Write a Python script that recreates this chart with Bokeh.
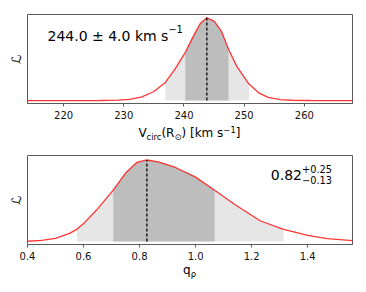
import math
from bokeh.plotting import figure
from bokeh.models import Label, FixedTicker, NumeralTickFormatter, Range1d, Div
from bokeh.layouts import column
from bokeh.embed import file_html
from bokeh.resources import INLINE

# ---------------- data ----------------
# top panel: circular velocity likelihood
v_x = [214, 226, 229, 231, 233, 235, 236.9, 238.5, 240.2, 241.5, 242.7, 243.8,
       245, 246.2, 247.4, 248.8, 250.8, 252.5, 254, 256, 258, 261, 268]
v_like = [0.0, 0.001, 0.006, 0.016, 0.045, 0.11, 0.22, 0.38, 0.58, 0.77, 0.93, 1.0,
          0.96, 0.84, 0.62, 0.41, 0.20, 0.09, 0.04, 0.012, 0.004, 0.001, 0.0]
v_light = (236.9, 250.8)
v_dark = (240.2, 247.4)
v_mark = 243.8
v_mark_height = 1.0
v_ticks = [220, 230, 240, 250, 260]
v_range = (214, 268)
v_title = "244.0 ± 4.0 km s"
v_title_sup = "−1"

# bottom panel: q_rho likelihood
q_x = [0.40, 0.45, 0.50, 0.55, 0.576, 0.60, 0.65, 0.706, 0.75, 0.79, 0.826, 0.87,
       0.93, 1.00, 1.068, 1.14, 1.23, 1.314, 1.40, 1.47, 1.56]
q_like = [0.004, 0.015, 0.04, 0.10, 0.15, 0.22, 0.40, 0.63, 0.84, 0.97, 1.0, 0.975,
          0.905, 0.79, 0.63, 0.455, 0.255, 0.15, 0.075, 0.035, 0.012]
q_light = (0.576, 1.314)
q_dark = (0.706, 1.068)
q_mark = 0.826
q_mark_height = 1.0
q_ticks = [0.4, 0.6, 0.8, 1.0, 1.2, 1.4]
q_range = (0.4, 1.56)
q_title = "0.82"
q_title_sup = "+0.25"
q_title_sub = "−0.13"

# ---------------- styling ----------------
FONT = "DejaVu Sans"
SPINE = "#5a5a5a"
LIGHT = "#e6e6e6"
DARK = "#bdbdbd"
RED = "#ff2020"
PAGE_W = 364
LEFT = 27
FW = 325

W = {' ': 651, '(': 799, ')': 799, '[': 799, ']': 799, '+': 1716, '−': 1716,
     '±': 1716, '.': 651, 'V': 1401, 'R': 1423, 'c': 1126, 'i': 569, 'r': 842,
     'k': 1186, 'm': 1995, 's': 1067, 'q': 1300, 'ρ': 1300, '⊙': 1716}
for d in "0123456789":
    W[d] = 1303


def tw(s, size):
    return sum(W.get(ch, 1200) for ch in s) / 2048.0 * size


def add_label(p, text, x, y, size, align="left", baseline="alphabetic"):
    p.add_layout(Label(x=x, y=y, x_units="screen", y_units="screen", text=text,
                       text_font=FONT, text_font_size=f"{size}px", text_color="black",
                       text_align=align, text_baseline=baseline))


def make_panel(xs, ys, light, dark, mark, mark_h, ticks, xr, yr, fmt,
               top_border, bottom_border, frame_h):
    p = figure(width=PAGE_W, height=top_border + frame_h + bottom_border,
               output_backend="svg", toolbar_location=None,
               x_range=Range1d(*xr), y_range=Range1d(*yr),
               min_border_left=LEFT, min_border_right=PAGE_W - LEFT - FW,
               min_border_top=top_border, min_border_bottom=bottom_border)
    p.grid.visible = False
    p.outline_line_color = SPINE
    p.outline_line_width = 1
    p.background_fill_color = "white"
    p.border_fill_color = "white"

    ax = p.xaxis[0]
    ax.ticker = FixedTicker(ticks=ticks)
    ax.formatter = NumeralTickFormatter(format=fmt)
    ax.axis_line_color = SPINE
    ax.major_tick_line_color = SPINE
    ax.major_tick_out = 3
    ax.major_tick_in = 0
    ax.minor_tick_line_color = None
    ax.major_label_standoff = 4
    ax.major_label_text_font = FONT
    ax.major_label_text_font_size = "10px"
    ax.major_label_text_color = "#111111"

    ay = p.yaxis[0]
    ay.ticker = FixedTicker(ticks=[])
    ay.axis_line_color = None
    ay.major_tick_line_color = None
    ay.minor_tick_line_color = None
    ay.major_tick_out = 0
    ay.major_tick_in = 0
    ay.major_label_standoff = 0
    ay.axis_label = "ℒ"
    ay.axis_label_text_font = FONT
    ay.axis_label_text_font_style = "normal"
    ay.axis_label_text_font_size = "13px"
    ay.axis_label_text_color = "black"
    ay.axis_label_standoff = 4

    lx = [x for x in xs if light[0] <= x <= light[1]]
    ly = [y for x, y in zip(xs, ys) if light[0] <= x <= light[1]]
    dx = [x for x in xs if dark[0] <= x <= dark[1]]
    dy = [y for x, y in zip(xs, ys) if dark[0] <= x <= dark[1]]
    p.varea(x=lx, y1=[0] * len(lx), y2=ly, fill_color=LIGHT)
    p.varea(x=dx, y1=[0] * len(dx), y2=dy, fill_color=DARK)
    p.line(xs, ys, line_color=RED, line_width=1.3, line_alpha=0.9)
    p.segment(x0=[mark], y0=[0], x1=[mark], y1=[mark_h], line_color="black",
              line_width=1.3, line_dash="3 2")
    return p


def label_div(pieces, height, line_h):
    w = sum(tw(t, s) for t, s, _ in pieces)
    pad = LEFT + FW / 2.0 - w / 2.0
    html = ""
    for t, s, dy in pieces:
        if dy == 0:
            html += t
        else:
            html += (f'<span style="font-size:{s}px;vertical-align:{dy}px;'
                     f'line-height:0">{t}</span>')
    inner = (f'<div style="font-family:\'DejaVu Sans\';font-size:12px;'
             f'line-height:{line_h}px;color:#000;white-space:nowrap;'
             f'padding-left:{pad:.1f}px;margin:0">{html}</div>')
    return Div(text=inner, width=PAGE_W, height=height, margin=0)


p1 = make_panel(v_x, v_like, v_light, v_dark, v_mark, v_mark_height, v_ticks,
                v_range, (-0.035, 1.04), "0", 14, 22, 89)
p2 = make_panel(q_x, q_like, q_light, q_dark, q_mark, q_mark_height, q_ticks,
                q_range, (-0.036, 1.055), "0.0", 12, 17, 90)

# x-axis labels (with sub/superscripts) as HTML text
div1 = label_div([("V", 12, 0), ("circ", 8.4, -2.5), ("(R", 12, 0), ("⊙", 8.4, -2.5),
                  (") [km s", 12, 0), ("−1", 8.4, 4.5), ("]", 12, 0)], 18, 16)
div2 = label_div([("q", 12, 0), ("ρ", 8.4, -2.5)], 22, 15)

# titles inside panels
add_label(p1, v_title, 20, 68, 14)
add_label(p1, v_title_sup, 20 + tw(v_title, 14), 74.5, 9.8)
add_label(p2, q_title, 243.3, 69.3, 14)
xs_sup = 243.3 + tw(q_title, 14)
add_label(p2, q_title_sup, xs_sup, 75.3, 9.8)
add_label(p2, q_title_sub, xs_sup, 64.3, 9.8)

layout = column(p1, div1, p2, div2)
open("out.html", "w").write(file_html(layout, INLINE))
